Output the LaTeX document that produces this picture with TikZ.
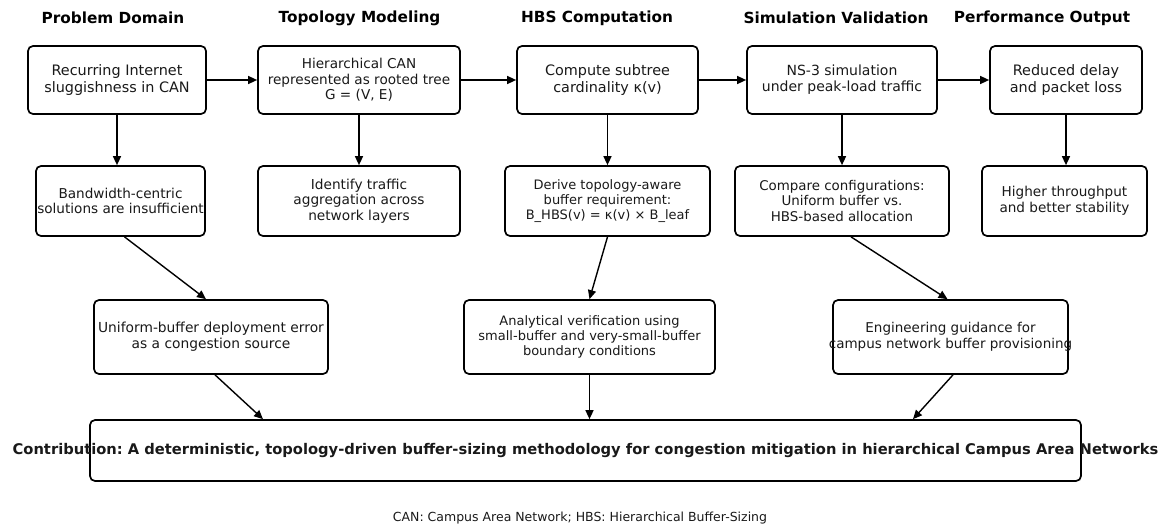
\documentclass[tikz,border=0pt]{standalone}
\usepackage{fontspec}
\setmainfont{DejaVu Sans}
\usetikzlibrary{arrows.meta,calc}
\newcommand{\fsz}[1]{\fontsize{#1pt}{1.15\dimexpr#1pt\relax}\selectfont\frenchspacing}
\begin{document}
\begin{tikzpicture}[x=1pt,y=-1pt,
  box/.style={draw=black,line width=1.7pt,rounded corners=5pt,inner sep=0pt,align=center,text=black!90},
  ttl/.style={font=\bfseries\fsz{15.3},text=black},
  arr/.style={-{Triangle[length=9pt,width=8pt]},line width=1.4pt,black},
]
\useasboundingbox (0,0) rectangle (1167,525);
% titles
\node[ttl] (t1) at (113,18) {Problem Domain};
\node[ttl] (t2) at (359.5,18) {Topology Modeling};
\node[ttl] (t3) at (597,18) {HBS Computation};
\node[ttl] (t4) at (836,18) {Simulation Validation};
\node[ttl] (t5) at (1042,18) {Performance Output};
% row 1
\node[box,minimum width=178,minimum height=68,font=\fsz{14.4}] (A1) at (117,80) {Recurring Internet\\sluggishness in CAN};
\node[box,minimum width=202,minimum height=68,font=\fsz{13.6}] (A2) at (359,80) {Hierarchical CAN\\represented as rooted tree\\G = (V, E)};
\node[box,minimum width=181,minimum height=68,font=\fsz{14.4}] (A3) at (607.5,80) {Compute subtree\\cardinality κ(v)};
\node[box,minimum width=190,minimum height=68,font=\fsz{14}] (A4) at (842,80) {NS-3 simulation\\under peak-load traffic};
\node[box,minimum width=152,minimum height=68,font=\fsz{14.4}] (A5) at (1066,80) {Reduced delay\\and packet loss};
% row 2
\node[box,minimum width=169,minimum height=70,font=\fsz{13.6}] (B1) at (120.5,201) {Bandwidth-centric\\\makebox[0pt]{solutions are insufficient}};
\node[box,minimum width=202,minimum height=70,font=\fsz{13.7}] (B2) at (359,201) {Identify traffic\\aggregation across\\network layers};
\node[box,minimum width=205,minimum height=70,font=\fsz{13}] (B3) at (607.5,201) {Derive topology-aware\\buffer requirement:\\B\_HBS(v) = κ(v) × B\_leaf};
\node[box,minimum width=214,minimum height=70,font=\fsz{13.4}] (B4) at (842,201) {Compare configurations:\\Uniform buffer vs.\\HBS-based allocation};
\node[box,minimum width=165,minimum height=70,font=\fsz{13.6}] (B5) at (1064.5,201) {Higher throughput\\and better stability};
% row 3
\node[box,minimum width=234,minimum height=74,font=\fsz{13.8}] (C1) at (211,337) {Uniform-buffer deployment error\\as a congestion source};
\node[box,minimum width=251,minimum height=74,font=\fsz{13}] (C2) at (589.5,337) {Analytical verification using\\small-buffer and very-small-buffer\\boundary conditions};
\node[box,minimum width=235,minimum height=74,font=\fsz{13.5}] (C3) at (950.5,337) {Engineering guidance for\\\makebox[0pt]{campus network buffer provisioning}};
% contribution
\node[box,minimum width=991,minimum height=61,font=\bfseries\fsz{14.7}] (D) at (585.5,450.5) {\makebox[0pt]{Contribution: A deterministic, topology-driven buffer-sizing methodology for congestion mitigation in hierarchical Campus Area Networks}};
% footnote
\node[font=\fsz{12.5},text=black!90] (fn) at (580,518) {CAN: Campus Area Network; HBS: Hierarchical Buffer-Sizing};
% horizontal arrows
\draw[arr] (A1.east) -- (A2.west);
\draw[arr] (A2.east) -- (A3.west);
\draw[arr] (A3.east) -- (A4.west);
\draw[arr] (A4.east) -- (A5.west);
% vertical arrows
\draw[arr] (A1.south) -- (A1.south |- B1.north);
\draw[arr] (A2.south) -- (A2.south |- B2.north);
\draw[arr] (A3.south) -- (A3.south |- B3.north);
\draw[arr] (A4.south) -- (A4.south |- B4.north);
\draw[arr] (A5.south) -- (A5.south |- B5.north);
% diagonals
\draw[arr] ([xshift=4]B1.south) -- ([xshift=-5]C1.north);
\draw[arr] (B3.south) -- (C2.north);
\draw[arr] ([xshift=9]B4.south) -- ([xshift=-3]C3.north);
\draw[arr] ([xshift=4]C1.south) -- ([xshift=-322.5]D.north);
\draw[arr] (C2.south) -- (C2.south |- D.north);
\draw[arr] ([xshift=2.5]C3.south) -- ([xshift=327.5]D.north);
\end{tikzpicture}
\end{document}
